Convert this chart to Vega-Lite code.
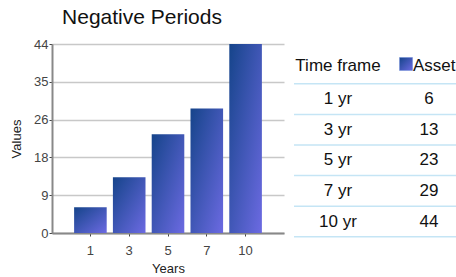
{
  "$schema": "https://vega.github.io/schema/vega-lite/v6.json",
  "padding": {"left": 10, "top": 7, "right": 0, "bottom": 0},
  "background": "white",
  "config": {"view": {"stroke": null}, "font": "Liberation Sans"},
  "datasets": {
    "periods": [
      {"years": "1", "frame": "1 yr", "value": 6},
      {"years": "3", "frame": "3 yr", "value": 13},
      {"years": "5", "frame": "5 yr", "value": 23},
      {"years": "7", "frame": "7 yr", "value": 29},
      {"years": "10", "frame": "10 yr", "value": 44}
    ]
  },
  "spacing": 9,
  "hconcat": [
    {
      "title": {"text": "Negative Periods", "fontSize": 21, "fontWeight": "normal", "color": "#111", "offset": 10, "dx": -26},
      "width": 232,
      "height": 189,
      "data": {"name": "periods"},
      "mark": {
        "type": "bar",
        "color": {
          "gradient": "linear", "x1": 0, "y1": 0, "x2": 1, "y2": 1,
          "stops": [{"offset": 0, "color": "#15448a"}, {"offset": 1, "color": "#6c6ae2"}]
        }
      },
      "encoding": {
        "x": {
          "field": "years", "type": "ordinal", "sort": null,
          "scale": {"paddingInner": 0.16, "paddingOuter": 0.57},
          "axis": {
            "title": "Years", "labelAngle": 0, "labelFontSize": 13, "labelColor": "#444",
            "titleFontSize": 13, "titleFontWeight": "normal", "titleColor": "#222",
            "domainColor": "#888", "domainWidth": 2, "tickColor": "#444", "tickSize": 3,
            "labelPadding": 8, "titlePadding": 5
          }
        },
        "y": {
          "field": "value", "type": "quantitative",
          "scale": {"domain": [0, 44], "nice": false},
          "axis": {
            "title": "Values", "values": [0, 8.8, 17.6, 26.4, 35.2, 44], "format": ".0f",
            "gridColor": "#c8c8c8", "gridWidth": 1.5,
            "domainColor": "#888", "domainWidth": 2, "tickColor": "#444", "tickSize": 3,
            "labelPadding": 1, "labelFontSize": 13, "labelColor": "#444",
            "titleFontSize": 13, "titleFontWeight": "normal", "titleColor": "#222", "titlePadding": 10
          }
        }
      }
    },
    {
      "width": 164,
      "height": 202,
      "data": {"name": "periods"},
      "layer": [
        {
          "mark": {"type": "rule", "color": "#c5e5f5", "strokeWidth": 1.5},
          "encoding": {
            "y": {
              "field": "frame", "type": "ordinal", "bandPosition": 1,
              "scale": {"type": "band", "domain": ["Time frame", "1 yr", "3 yr", "5 yr", "7 yr", "10 yr"], "paddingInner": 0, "paddingOuter": 0.3},
              "axis": null
            }
          }
        },
        {
          "data": {"values": [{}]},
          "mark": {"type": "rule", "color": "#c5e5f5", "strokeWidth": 1.5},
          "encoding": {
            "y": {"datum": "Time frame", "type": "ordinal", "bandPosition": 1}
          }
        },
        {
          "mark": {"type": "text", "fontSize": 17, "color": "#111"},
          "encoding": {
            "x": {
              "datum": "Time frame", "type": "ordinal",
              "scale": {"type": "point", "domain": ["Time frame", "Asset"], "padding": 0.401, "align": 0.603},
              "axis": null
            },
            "y": {"field": "frame", "type": "ordinal"},
            "text": {"field": "frame"}
          }
        },
        {
          "mark": {"type": "text", "fontSize": 17, "color": "#111"},
          "encoding": {
            "x": {"datum": "Asset", "type": "ordinal"},
            "y": {"field": "frame", "type": "ordinal"},
            "text": {"field": "value"}
          }
        },
        {
          "data": {"values": [{}]},
          "mark": {"type": "text", "text": "Time frame", "fontSize": 17, "color": "#111", "dy": -2},
          "encoding": {
            "x": {"datum": "Time frame", "type": "ordinal"},
            "y": {"datum": "Time frame", "type": "ordinal"}
          }
        },
        {
          "data": {"values": [{}]},
          "mark": {"type": "text", "text": "Asset", "fontSize": 17, "color": "#111", "dy": -2, "dx": -16, "align": "left"},
          "encoding": {
            "x": {"datum": "Asset", "type": "ordinal"},
            "y": {"datum": "Time frame", "type": "ordinal"}
          }
        },
        {
          "data": {"values": [{}]},
          "mark": {
            "type": "square", "size": 169, "xOffset": -23, "yOffset": -4.5, "opacity": 1,
            "fill": {
              "gradient": "linear", "x1": 0, "y1": 0, "x2": 1, "y2": 1,
              "stops": [{"offset": 0, "color": "#15448a"}, {"offset": 1, "color": "#6c6ae2"}]
            },
            "stroke": "#6c8ad8", "strokeWidth": 0.5
          },
          "encoding": {
            "x": {"datum": "Asset", "type": "ordinal"},
            "y": {"datum": "Time frame", "type": "ordinal"}
          }
        }
      ]
    }
  ]
}
